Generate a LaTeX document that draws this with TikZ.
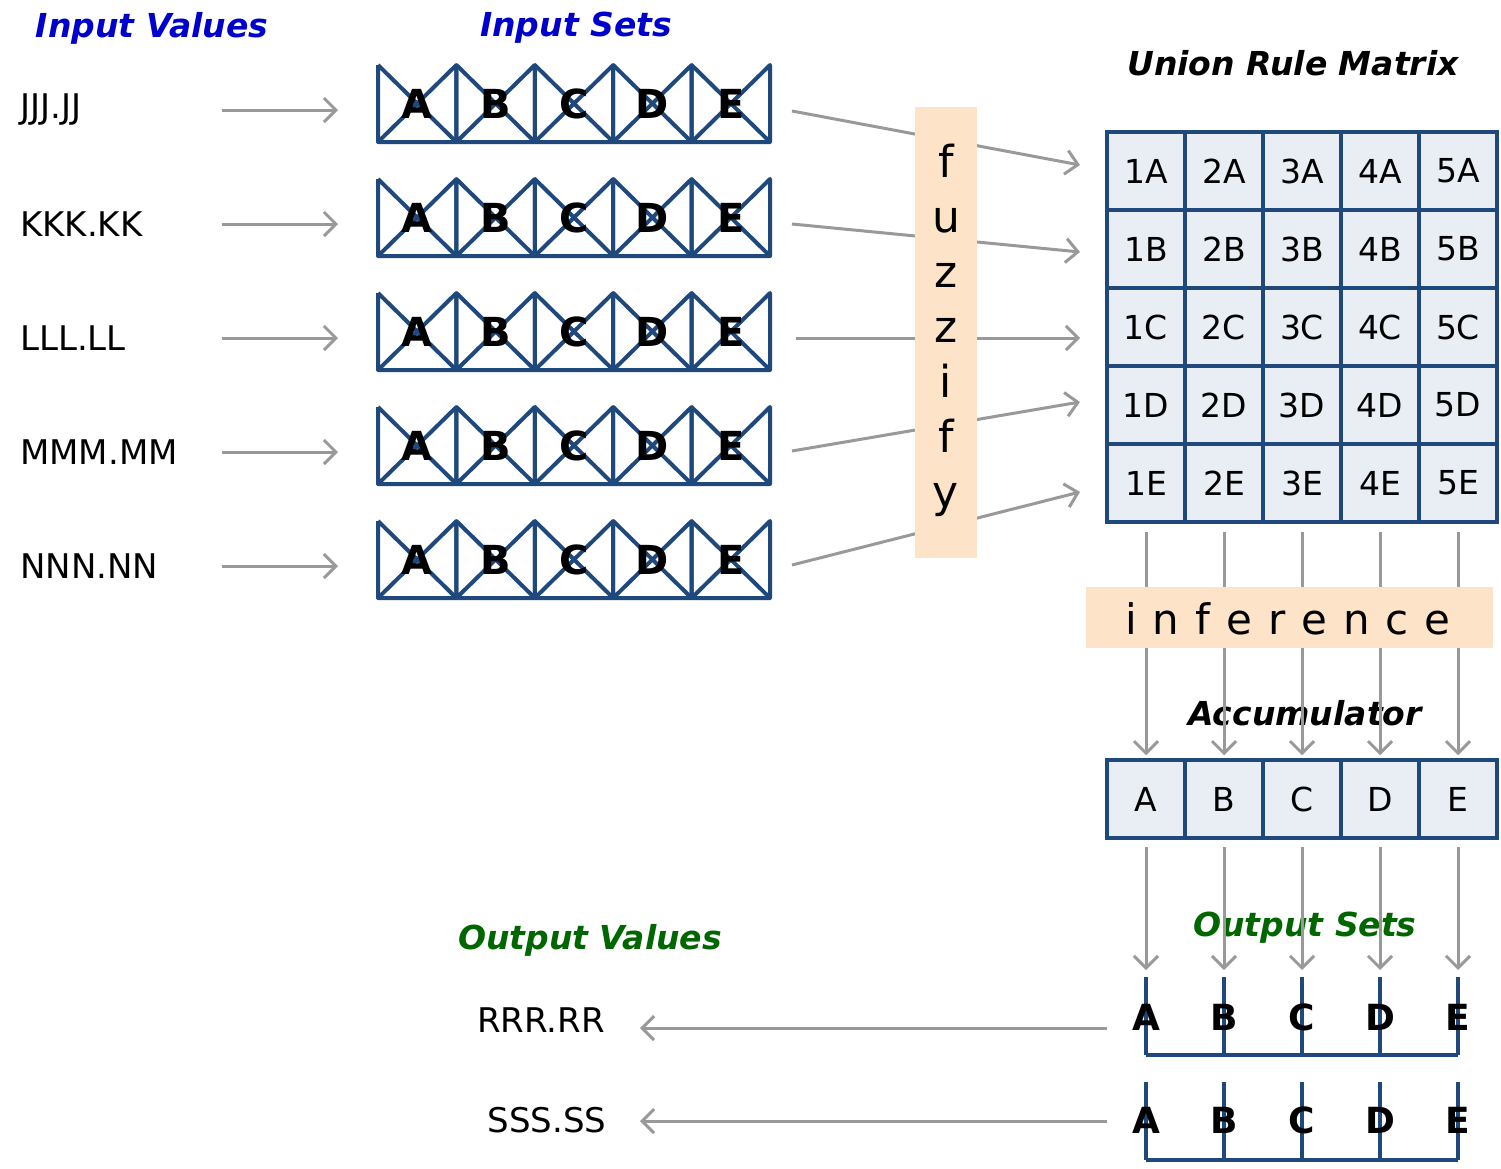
\documentclass[tikz,border=0pt]{standalone}
\usepackage{fontspec}
\setmainfont{DejaVu Sans}
\usetikzlibrary{arrows.meta}
\definecolor{setblue}{RGB}{31,73,125}
\definecolor{cellfill}{RGB}{233,237,244}
\definecolor{peach}{RGB}{253,228,201}
\definecolor{arrgray}{RGB}{153,153,153}
\definecolor{titleblue}{RGB}{0,0,204}
\definecolor{titlegreen}{RGB}{0,102,0}
\begin{document}
\begin{tikzpicture}[x=1pt,y=-1pt,
  arr/.style={draw=arrgray,line width=3pt,-{Straight Barb[length=12pt,width=24pt]}},
  setline/.style={draw=setblue,line width=4pt,line join=round},
  setletter/.style={font=\fontsize{40}{42}\selectfont\bfseries,text=black,inner sep=0pt},
  valtext/.style={font=\fontsize{34}{38}\selectfont,text=black,inner sep=0pt},
  cell/.style={draw=setblue,fill=cellfill,line width=3.5pt,minimum width=78pt,minimum height=78pt,inner sep=0pt,font=\fontsize{33}{36}\selectfont},
  titleb/.style={font=\fontsize{33}{36}\selectfont\bfseries\itshape,text=titleblue,inner sep=0pt},
  titleg/.style={font=\fontsize{33}{36}\selectfont\bfseries\itshape,text=titlegreen,inner sep=0pt},
  titlek/.style={font=\fontsize{33}{36}\selectfont\bfseries\itshape,text=black,inner sep=0pt},
  peachbox/.style={fill=peach,draw=none,inner sep=0pt}]
\useasboundingbox[fill=white] (0,0) rectangle (1501,1168);

% titles
\node[titleb] (tiv) at (152,28) {Input Values};
\node[titleb] (tis) at (576,28) {Input Sets};
\node[titlek] (turm) at (1293,63) {Union Rule Matrix};

% input values, arrows, input sets
\foreach \r/\txt in {1/JJJ.JJ,2/KKK.KK,3/LLL.LL,4/MMM.MM,5/NNN.NN} {
  \pgfmathsetmacro\T{65+(\r-1)*114}
  \pgfmathsetmacro\B{\T+77}
  \pgfmathsetmacro\Y{\T+45}
  \pgfmathsetmacro\Yc{\T+39}
  \node[valtext,anchor=west] (iv\r) at (20,\Y) {\txt};
  \coordinate (ivs\r) at (222,\Y);
  \coordinate (ive\r) at (338,\Y);
  \draw[arr] (ivs\r) -- (ive\r);
  \node[inner sep=0pt,minimum width=392pt,minimum height=77pt,anchor=north west] (set\r) at (378,\T) {};
  \foreach \c in {0,...,4} {
    \pgfmathsetmacro\xa{378+\c*78.4}
    \pgfmathsetmacro\xb{\xa+78.4}
    \draw[setline] (\xa,\T) -- (\xa,\B) -- (\xb,\B) -- (\xb,\T) -- (\xa,\B);
    \draw[setline] (\xa,\T) -- (\xb,\B);
  }
  \foreach \c/\L in {0/A,1/B,2/C,3/D,4/E} {
    \pgfmathsetmacro\xc{417.2+\c*78.4}
    \node[setletter] (s\r\L) at (\xc,\Yc) {\L};
  }
}

% fuzzify lines (behind the box)
\coordinate (fs1) at (792,111); \coordinate (fe1) at (1080,165);
\coordinate (fs2) at (792,224); \coordinate (fe2) at (1080,252);
\coordinate (fs3) at (796,338); \coordinate (fe3) at (1080,338);
\coordinate (fs4) at (792,451); \coordinate (fe4) at (1080,402);
\coordinate (fs5) at (792,565); \coordinate (fe5) at (1080,492);
\foreach \r in {1,...,5} { \draw[arr] (fs\r) -- (fe\r); }

\node[peachbox,minimum width=62pt,minimum height=451pt,anchor=north west] (fuzz) at (915,107) {};
\node[align=center,inner sep=0pt,anchor=north,font=\fontsize{44}{55}\selectfont] (fuzztxt) at (946,144) {f\\u\\z\\z\\i\\f\\y};

% union rule matrix
\foreach \r/\R in {1/A,2/B,3/C,4/D,5/E} {
  \foreach \c in {1,...,5} {
    \pgfmathsetmacro\mx{1146+(\c-1)*78}
    \pgfmathsetmacro\my{171+(\r-1)*78}
    \node[cell] (m\c\R) at (\mx,\my) {\c\R};
  }
}

% accumulator
\node[titlek] (tacc) at (1305,713) {Accumulator};
\foreach \c/\L in {1/A,2/B,3/C,4/D,5/E} {
  \pgfmathsetmacro\mx{1146+(\c-1)*78}
  \node[cell] (acc\L) at (\mx,799) {\L};
}

% inference arrows and box
\foreach \c/\L in {1/A,2/B,3/C,4/D,5/E} {
  \draw[arr] ([yshift=-8pt]m\c E.south) -- ([yshift=3pt]acc\L.north);
}
\node[peachbox,minimum width=407pt,minimum height=61pt,anchor=north west] (infbox) at (1086,587) {};
\node[inner sep=0pt,font=\fontsize{42}{46}\selectfont,anchor=base] (inftxt) at (1288,634) {i\hspace{16pt}n\hspace{16pt}f\hspace{16pt}e\hspace{16pt}r\hspace{16pt}e\hspace{16pt}n\hspace{16pt}c\hspace{16pt}e};

% output sets
\node[titleg] (tos) at (1305,928) {Output Sets};
\node[titleg] (tov) at (590,940) {Output Values};
\foreach \c/\L in {1/A,2/B,3/C,4/D,5/E} {
  \pgfmathsetmacro\xc{1146+(\c-1)*78}
  \coordinate (oa\L) at (\xc,970);
  \draw[arr] ([yshift=-7pt]acc\L.south) -- (oa\L);
  \draw[setline] (\xc,977) -- (\xc,1055);
  \draw[setline] (\xc,1082) -- (\xc,1160);
}
\draw[setline] (1146,1055) -- (1458,1055);
\draw[setline] (1146,1160) -- (1458,1160);
\foreach \c/\L in {1/A,2/B,3/C,4/D,5/E} {
  \pgfmathsetmacro\xc{1146+(\c-1)*78}
  \node[setletter,font=\fontsize{36}{38}\selectfont\bfseries] (o1\L) at (\xc,1017) {\L};
  \node[setletter,font=\fontsize{36}{38}\selectfont\bfseries] (o2\L) at (\xc,1120) {\L};
}

% output values
\node[valtext] (ov1) at (541,1020) {RRR.RR};
\node[valtext] (ov2) at (547,1120) {SSS.SS};
\coordinate (os1) at (1107,1028); \coordinate (oe1) at (640,1028);
\coordinate (os2) at (1107,1121); \coordinate (oe2) at (640,1121);
\draw[arr] (os1) -- (oe1);
\draw[arr] (os2) -- (oe2);
\end{tikzpicture}
\end{document}
